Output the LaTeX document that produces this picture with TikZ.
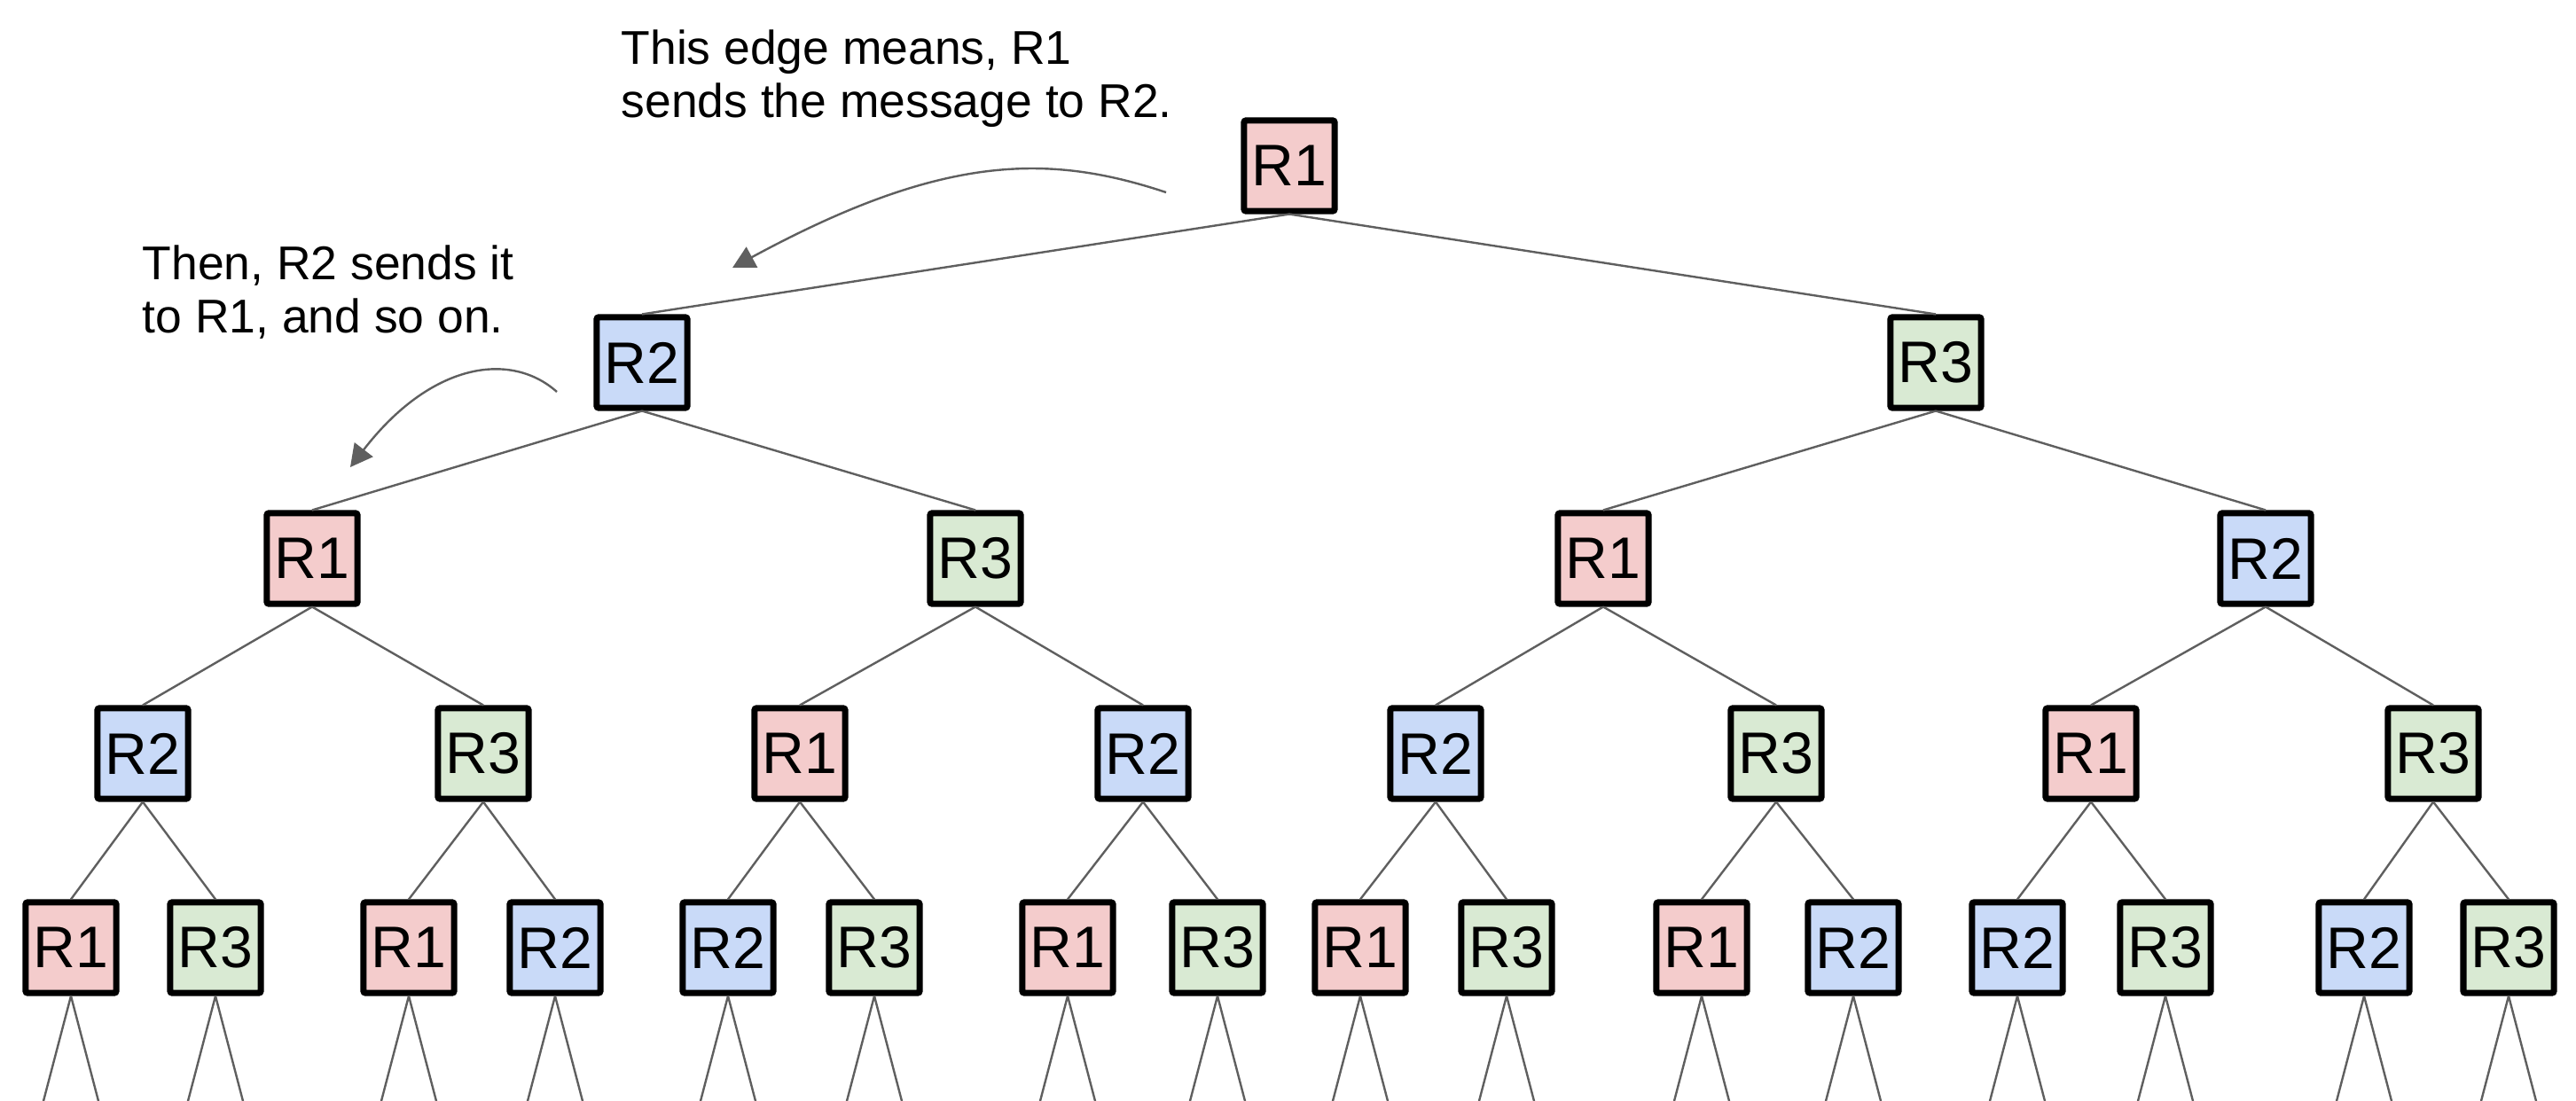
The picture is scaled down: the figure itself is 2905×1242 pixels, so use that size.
\documentclass[tikz,border=0pt]{standalone}
\usepackage{fontspec}
\setmainfont{Liberation Sans}
\usetikzlibrary{arrows.meta}
\definecolor{rpink}{HTML}{F4CCCC}
\definecolor{rblue}{HTML}{C9DAF8}
\definecolor{rgreen}{HTML}{D9EAD3}
\definecolor{egray}{HTML}{5F5F5F}
\begin{document}
\begin{tikzpicture}[x=0.01cm,y=-0.01cm,
  rbox/.style={draw=black, line width=0.07cm, rounded corners=0.02cm,
    minimum width=1.02cm, minimum height=1.02cm, inner sep=0pt,
    font=\fontsize{18.8pt}{22pt}\selectfont},
  r1/.style={rbox, fill=rpink},
  r2/.style={rbox, fill=rblue},
  r3/.style={rbox, fill=rgreen},
  link/.style={draw=egray, line width=0.024cm},
  note/.style={align=left, inner sep=0pt, anchor=base west,
    font=\fontsize{15.2pt}{16.8pt}\selectfont},
  callout/.style={draw=egray, line width=0.024cm, -{Triangle[length=0.25cm,width=0.26cm]}}]
\useasboundingbox (0,0) rectangle (2905,1242);

% level 0
\node[r1] (n0) at (1454,187) {R1};
% level 1
\node[r2] (n10) at (724,409) {R2};
\node[r3] (n11) at (2183,409) {R3};
% level 2
\node[r1] (n20) at (352,630) {R1};
\node[r3] (n21) at (1100,630) {R3};
\node[r1] (n22) at (1808,630) {R1};
\node[r2] (n23) at (2555,630) {R2};
% level 3
\node[r2] (n30) at (161,850) {R2};
\node[r3] (n31) at (545,850) {R3};
\node[r1] (n32) at (902,850) {R1};
\node[r2] (n33) at (1289,850) {R2};
\node[r2] (n34) at (1619,850) {R2};
\node[r3] (n35) at (2003,850) {R3};
\node[r1] (n36) at (2358,850) {R1};
\node[r3] (n37) at (2744,850) {R3};
% level 4
\foreach \x/\s/\t [count=\i from 0] in {80/r1/R1,243/r3/R3,461/r1/R1,626/r2/R2,
  821/r2/R2,986/r3/R3,1204/r1/R1,1373/r3/R3,1534/r1/R1,1699/r3/R3,
  1919/r1/R1,2090/r2/R2,2275/r2/R2,2442/r3/R3,2666/r2/R2,2829/r3/R3}{
  \node[\s] (n4\i) at (\x,1069) {\t};
  \coordinate (fl\i) at (\x-31,1242);
  \coordinate (fr\i) at (\x+31,1242);
  \draw[link] (n4\i.south) -- (fl\i);
  \draw[link] (n4\i.south) -- (fr\i);
}

% edges
\draw[link] (n0.south) -- (n10.north);
\draw[link] (n0.south) -- (n11.north);
\draw[link] (n10.south) -- (n20.north);
\draw[link] (n10.south) -- (n21.north);
\draw[link] (n11.south) -- (n22.north);
\draw[link] (n11.south) -- (n23.north);
\foreach \p/\a/\b in {20/30/31,21/32/33,22/34/35,23/36/37}{
  \draw[link] (n\p.south) -- (n\a.north);
  \draw[link] (n\p.south) -- (n\b.north);
}
\foreach \p/\a/\b in {30/40/41,31/42/43,32/44/45,33/46/47,34/48/49,35/410/411,36/412/413,37/414/415}{
  \draw[link] (n\p.south) -- (n\a.north);
  \draw[link] (n\p.south) -- (n\b.north);
}

% annotations (base anchor = last line's baseline)
\node[note] (t1) at (700,132) {This edge means, R1\\sends the message to R2.};
\node[note] (t2) at (160,375) {Then, R2 sends it\\to R1, and so on.};
\coordinate (s1) at (1315,217);
\coordinate (e1) at (826,302);
\coordinate (s2) at (628,442);
\coordinate (e2) at (395,527);
\draw[callout] (s1) .. controls (1180,172) and (1060,175) .. (e1);
\draw[callout] (s2) .. controls (575,395) and (485,410) .. (e2);
\end{tikzpicture}
\end{document}
